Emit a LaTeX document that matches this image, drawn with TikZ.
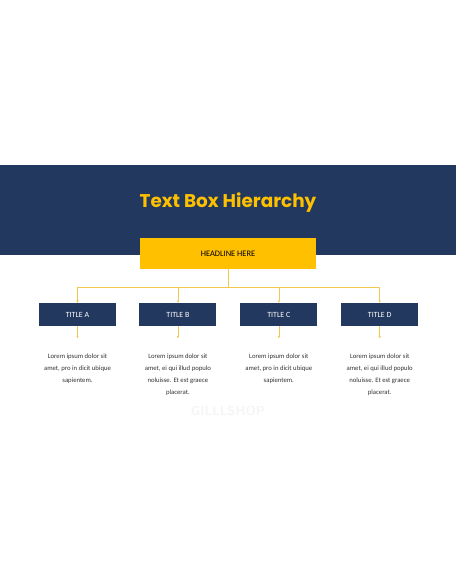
\documentclass[tikz,border=0pt]{standalone}
\usepackage{fontspec}
\setmainfont{Carlito}
\newfontfamily\headfont{Poppins}
\usetikzlibrary{positioning,arrows.meta}
\definecolor{navy}{HTML}{22385F}
\definecolor{gold}{HTML}{FFC000}
\definecolor{linegold}{HTML}{F2C94C}
\tikzset{
    titlebox/.style={fill=navy,text=white,minimum width=77pt,minimum height=23pt,inner sep=0pt,font=\fontsize{7.9}{9}\selectfont},
    bodytext/.style={align=center,text=black!80,font=\fontsize{6.7}{12}\selectfont,inner sep=0pt,anchor=north},
    link/.style={draw=linegold,line width=0.6pt},
    tip/.style={-{Stealth[length=2.5pt,width=2.5pt]}}
}
\begin{document}
\begin{tikzpicture}[x=1pt,y=-1pt]
        \useasboundingbox[fill=white] (0,0) rectangle (456,586);
        % banner
        \fill[navy] (0,165) rectangle (456,255);
        \node[text=gold,font=\headfont\fontsize{18.4}{22}\selectfont\bfseries] (title) at (228,202.5) {Text Box Hierarchy};
        \node[fill=gold,minimum width=176pt,minimum height=31pt,inner sep=0pt,font=\fontsize{8.4}{10}\selectfont] (head) at (228,253.5) {HEADLINE HERE};
        % titles
        \node[titlebox] (ta) at (77.5,314.5) {TITLE A};
        \node[titlebox,right=23pt of ta] (tb) {TITLE B};
        \node[titlebox,right=23.5pt of tb] (tc) {TITLE C};
        \node[titlebox,right=23.5pt of tc] (td) {TITLE D};
        \coordinate (hub) at (228,287);
        \draw[link] (head.south) -- (hub);
        \foreach \t/\e in {ta/ea,tb/eb,tc/ec,td/ed}{
            \draw[link,tip] (hub) -| (\t.north);
            \coordinate (\e) at ([yshift=-12pt]\t.south);
            \draw[link,tip] (\t.south) -- (\e);
        }
        % texts
        \node[bodytext] (xa) at ([yshift=-15.5pt]ea) {Lorem ipsum dolor sit\\amet, pro in dicit ubique\\sapientem.};
        \node[bodytext] (xb) at ([yshift=-15.5pt]eb) {Lorem ipsum dolor sit\\amet, ei qui illud populo\\noluisse. Et est graece\\placerat.};
        \node[bodytext] (xc) at ([yshift=-15.5pt]ec) {Lorem ipsum dolor sit\\amet, pro in dicit ubique\\sapientem.};
        \node[bodytext] (xd) at ([yshift=-15.5pt]ed) {Lorem ipsum dolor sit\\amet, ei qui illud populo\\noluisse. Et est graece\\placerat.};
        \node[text=black!4,font=\sffamily\bfseries\fontsize{13}{15}\selectfont] (mark) at (228,411) {GILLLSHOP};
\end{tikzpicture}
\end{document}
